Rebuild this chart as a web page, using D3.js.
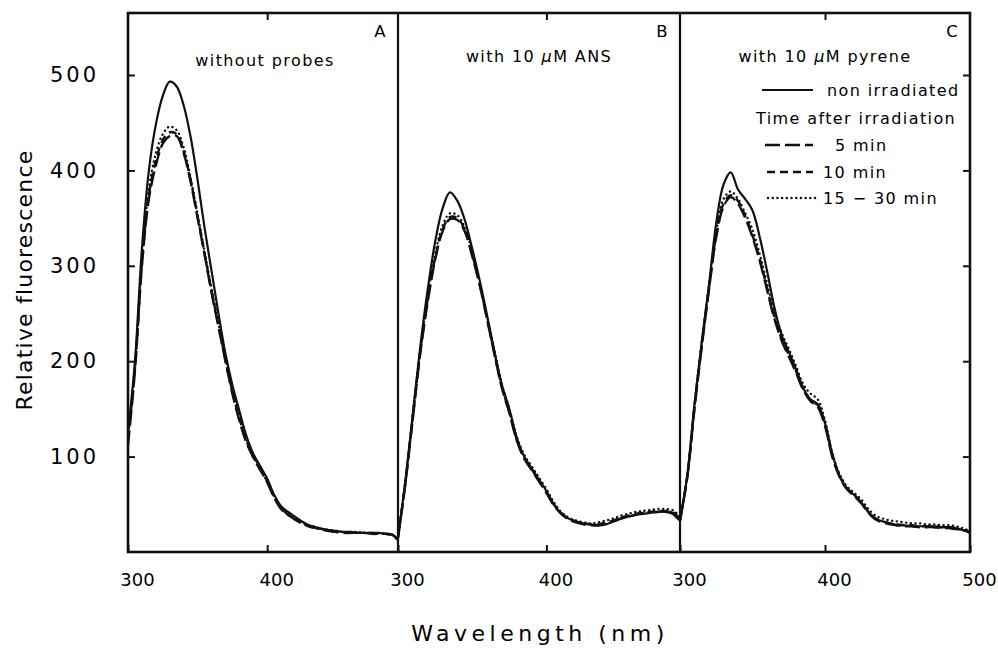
<!DOCTYPE html>
<html>
<head>
<meta charset="utf-8">
<script src="https://cdn.jsdelivr.net/npm/d3@7"></script>
<style>
  body { margin: 0; background: #fff; }
  svg text { font-family: "DejaVu Sans", Verdana, sans-serif; fill: #000; }
</style>
</head>
<body>
<svg id="chart" width="998" height="658"></svg>
<script>
// wavelength grid (nm) shared by all spectra
const wavelengths = [300, 305, 310, 315, 320, 325, 330, 335, 340, 345, 350, 355, 360, 365, 370, 375, 380, 385, 390, 395,
  400, 405, 410, 415, 420, 425, 430, 435, 440, 445, 450, 455, 460, 465, 470, 475, 480, 485, 490, 495, 500];

// A: without probes
const aSolid = [125, 200, 318, 400, 448, 478, 493, 488, 468, 435, 390, 340, 295, 250, 208, 175, 148, 122, 103, 90,
  77, 60, 48, 42, 37, 32, 28, 26, 24, 23, 22, 21, 21, 20, 20, 20, 20, 19, 18, 12, 12];
const aMin5 = [112, 190, 300, 370, 405, 428, 436, 436, 418, 388, 350, 312, 272, 236, 200, 166, 138, 115, 99, 86,
  73, 57, 45, 39, 34, 30, 27, 25, 23, 22, 21, 20, 20, 20, 20, 19, 19, 19, 18, 12, 12];
const aMin10 = [118, 192, 302, 374, 410, 432, 440, 438, 420, 390, 352, 313, 274, 238, 202, 168, 140, 117, 100, 87,
  74, 58, 46, 39, 34, 30, 27, 25, 24, 22, 21, 21, 20, 20, 20, 20, 19, 19, 18, 12, 12];
const aMin15 = [120, 195, 306, 380, 418, 438, 446, 442, 424, 392, 354, 315, 276, 240, 204, 170, 142, 119, 102, 88,
  75, 59, 47, 40, 35, 31, 28, 26, 24, 23, 22, 21, 21, 21, 20, 20, 20, 19, 18, 12, 12];

// B: with 10 uM ANS
const bSolid = [15, 75, 145, 215, 275, 325, 360, 377, 368, 348, 318, 285, 248, 210, 175, 150, 120, 100, 88, 76,
  64, 50, 40, 35, 32, 30, 29, 28, 29, 32, 35, 37, 39, 40, 41, 42, 42, 40, 33, 33, 33];
const bMin5 = [15, 72, 140, 208, 262, 306, 336, 349, 348, 336, 310, 280, 244, 207, 172, 146, 117, 98, 86, 74,
  62, 49, 40, 34, 31, 29, 28, 28, 30, 32, 35, 37, 39, 41, 42, 42, 43, 41, 35, 35, 35];
const bMin10 = [15, 73, 142, 210, 265, 308, 338, 351, 350, 338, 312, 281, 245, 208, 173, 147, 118, 99, 87, 75,
  63, 50, 41, 35, 32, 30, 29, 29, 31, 33, 36, 38, 40, 41, 42, 43, 43, 42, 36, 36, 36];
const bMin15 = [16, 74, 144, 212, 268, 312, 342, 355, 353, 340, 315, 284, 248, 211, 176, 150, 121, 102, 90, 78,
  66, 52, 42, 36, 33, 31, 30, 31, 33, 35, 38, 40, 42, 43, 44, 45, 45, 44, 38, 38, 38];

// C: with 10 uM pyrene
const cSolid = [33, 80, 155, 220, 280, 345, 385, 398, 380, 370, 358, 330, 295, 257, 228, 210, 192, 172, 160, 155,
  135, 103, 80, 67, 60, 52, 42, 35, 32, 30, 28, 28, 27, 27, 27, 27, 26, 26, 25, 23, 20];
const cMin5 = [33, 78, 150, 215, 275, 330, 362, 372, 365, 350, 330, 305, 275, 245, 222, 205, 188, 170, 158, 152,
  132, 100, 79, 66, 59, 51, 41, 34, 31, 29, 28, 27, 27, 26, 26, 26, 25, 25, 24, 23, 21];
const cMin10 = [33, 79, 152, 217, 277, 333, 365, 374, 368, 352, 332, 307, 277, 247, 224, 207, 190, 171, 159, 154,
  134, 101, 80, 67, 60, 52, 42, 35, 32, 30, 29, 28, 28, 27, 27, 27, 26, 26, 25, 23, 21];
const cMin15 = [34, 80, 155, 220, 280, 336, 370, 378, 370, 355, 338, 312, 282, 252, 230, 213, 195, 176, 166, 160,
  138, 104, 82, 69, 62, 55, 45, 38, 35, 33, 32, 31, 30, 30, 29, 29, 28, 28, 27, 25, 22];

const panelLetters = ['A', 'B', 'C'];
const panelTitles = ['without probes', 'with 10 μM ANS', 'with 10 μM pyrene'];
const panelMaxNm = [494, 490, 500];
const xTickValues = [[300, 400], [300, 400], [300, 400, 500]];
const yTickValues = [100, 200, 300, 400, 500];
const seriesNames = ['non irradiated', '5 min', '10 min', '15 − 30 min'];
const seriesDash = [null, '15,5', '8,5', '0.1,4.6'];

const panelSeries = [
  [aSolid, aMin5, aMin10, aMin15],
  [bSolid, bMin5, bMin10, bMin15],
  [cSolid, cMin5, cMin10, cMin15]
];

let svg = d3.select('#chart');
let frame = {left: 128, right: 970, top: 13, bottom: 552};
let edges = [128, 398, 680, 970];

let y = d3.scaleLinear().domain([0, 565]).range([frame.bottom, frame.top]);

// curves, one group per panel
panelSeries.forEach((seriesList, p) => {
  let x0 = edges[p], w = edges[p + 1] - edges[p];
  let x = d3.scaleLinear().domain([300, panelMaxNm[p]]).range([0, w]);

  let g = svg.append('g').attr('transform', 'translate(' + x0 + ',0)');

  g.append('clipPath').attr('id', 'clip' + p)
    .append('rect')
    .attr('x', 0).attr('y', frame.top)
    .attr('width', w).attr('height', frame.bottom - frame.top);

  let line = d3.line()
    .x((d) => x(d[0]))
    .y((d) => y(d[1]))
    .curve(d3.curveCatmullRom.alpha(0.5));

  // draw the dotted one first so the solid sits on top
  for (let s = seriesList.length - 1; s >= 0; s--) {
    let pts = wavelengths.map((wl, i) => [wl, seriesList[s][i]]);
    g.append('path')
      .attr('clip-path', 'url(#clip' + p + ')')
      .attr('d', line(pts))
      .attr('fill', 'none')
      .attr('stroke', '#111')
      .attr('stroke-width', s === 0 ? 2.2 : 2.4)
      .attr('stroke-linecap', s === 3 ? 'round' : 'butt')
      .attr('stroke-dasharray', seriesDash[s]);
  }

  // bottom axis with inward ticks
  let bottom = g.append('g')
    .attr('transform', 'translate(0,' + frame.bottom + ')')
    .call(d3.axisBottom(x).tickValues(xTickValues[p]).tickSize(-7).tickPadding(21));
  bottom.select('.domain').remove();
  bottom.selectAll('line').attr('stroke', '#111').attr('stroke-width', 2);
  bottom.selectAll('text')
    .attr('dx', 9)
    .style('font-size', '18px')
    .style('font-family', '"DejaVu Sans", Verdana, sans-serif')
    .attr('fill', '#000');

  // top axis, ticks only
  let top = g.append('g')
    .attr('transform', 'translate(0,' + frame.top + ')')
    .call(d3.axisTop(x).tickValues([400]).tickSize(-7).tickFormat(''));
  top.select('.domain').remove();
  top.selectAll('line').attr('stroke', '#111').attr('stroke-width', 2);

  // panel letter and title
  g.append('text')
    .attr('x', w - 18).attr('y', 31)
    .attr('dy', '0.36em')
    .attr('text-anchor', 'middle')
    .style('font-size', '16.5px')
    .text(panelLetters[p]);

  let title = g.append('text')
    .attr('x', w / 2 + (p === 0 ? 2 : 0)).attr('y', p === 0 ? 60 : 56)
    .attr('dy', '0.36em')
    .attr('text-anchor', 'middle')
    .style('font-size', '16px')
    .style('letter-spacing', '1.4px');
  panelTitles[p].split('μ').forEach((part, i) => {
    if (i > 0) title.append('tspan').style('font-style', 'italic').text('μ');
    title.append('tspan').text(part);
  });
});

// left axis
let left = svg.append('g')
  .attr('transform', 'translate(' + frame.left + ',0)')
  .call(d3.axisLeft(y).tickValues(yTickValues).tickSize(-7).tickPadding(29));
left.select('.domain').remove();
left.selectAll('line').attr('stroke', '#111').attr('stroke-width', 2);
left.selectAll('text')
  .style('font-size', '21px')
  .style('letter-spacing', '3px')
  .style('font-family', '"DejaVu Sans", Verdana, sans-serif')
  .attr('fill', '#000');

// right axis, ticks only
let right = svg.append('g')
  .attr('transform', 'translate(' + frame.right + ',0)')
  .call(d3.axisRight(y).tickValues(yTickValues).tickSize(-7).tickFormat(''));
right.select('.domain').remove();
right.selectAll('line').attr('stroke', '#111').attr('stroke-width', 2);

// frame and panel dividers
svg.append('rect')
  .attr('x', frame.left).attr('y', frame.top)
  .attr('width', frame.right - frame.left).attr('height', frame.bottom - frame.top)
  .attr('fill', 'none').attr('stroke', '#111').attr('stroke-width', 2.6);

[edges[1], edges[2]].forEach((ex) => {
  svg.append('line')
    .attr('x1', ex).attr('x2', ex)
    .attr('y1', frame.top).attr('y2', frame.bottom)
    .attr('stroke', '#111').attr('stroke-width', 2.2);
});

// axis titles
svg.append('text')
  .attr('transform', 'translate(24,' + 280 + ') rotate(-90)')
  .attr('text-anchor', 'middle')
  .attr('dy', '0.36em')
  .style('font-size', '22px')
  .style('letter-spacing', '1.2px')
  .text('Relative fluorescence');

svg.append('text')
  .attr('x', 540).attr('y', 633)
  .attr('text-anchor', 'middle')
  .attr('dy', '0.36em')
  .style('font-size', '22px')
  .style('letter-spacing', '4.5px')
  .text('Wavelength (nm)');

// legend inside panel C
let legendRows = [90, 145, 172, 198];
let legendLineX = [[762, 813], [765, 813], [767, 813], [768, 816]];
let legendTextX = [827, 835, 823, 823];
let legend = svg.append('g');

seriesNames.forEach((name, i) => {
  legend.append('line')
    .attr('x1', legendLineX[i][0]).attr('x2', legendLineX[i][1])
    .attr('y1', legendRows[i]).attr('y2', legendRows[i])
    .attr('stroke', '#111')
    .attr('stroke-width', i === 0 ? 2.2 : 2.4)
    .attr('stroke-linecap', i === 3 ? 'round' : 'butt')
    .attr('stroke-dasharray', seriesDash[i]);
  legend.append('text')
    .attr('x', legendTextX[i]).attr('y', legendRows[i])
    .attr('dy', '0.36em')
    .style('font-size', '16px')
    .style('letter-spacing', '1.4px')
    .text(name);
});

legend.append('text')
  .attr('x', 756).attr('y', 118)
  .attr('dy', '0.36em')
  .style('font-size', '16px')
  .style('letter-spacing', '1.4px')
  .text('Time after irradiation');
</script>
</body>
</html>
